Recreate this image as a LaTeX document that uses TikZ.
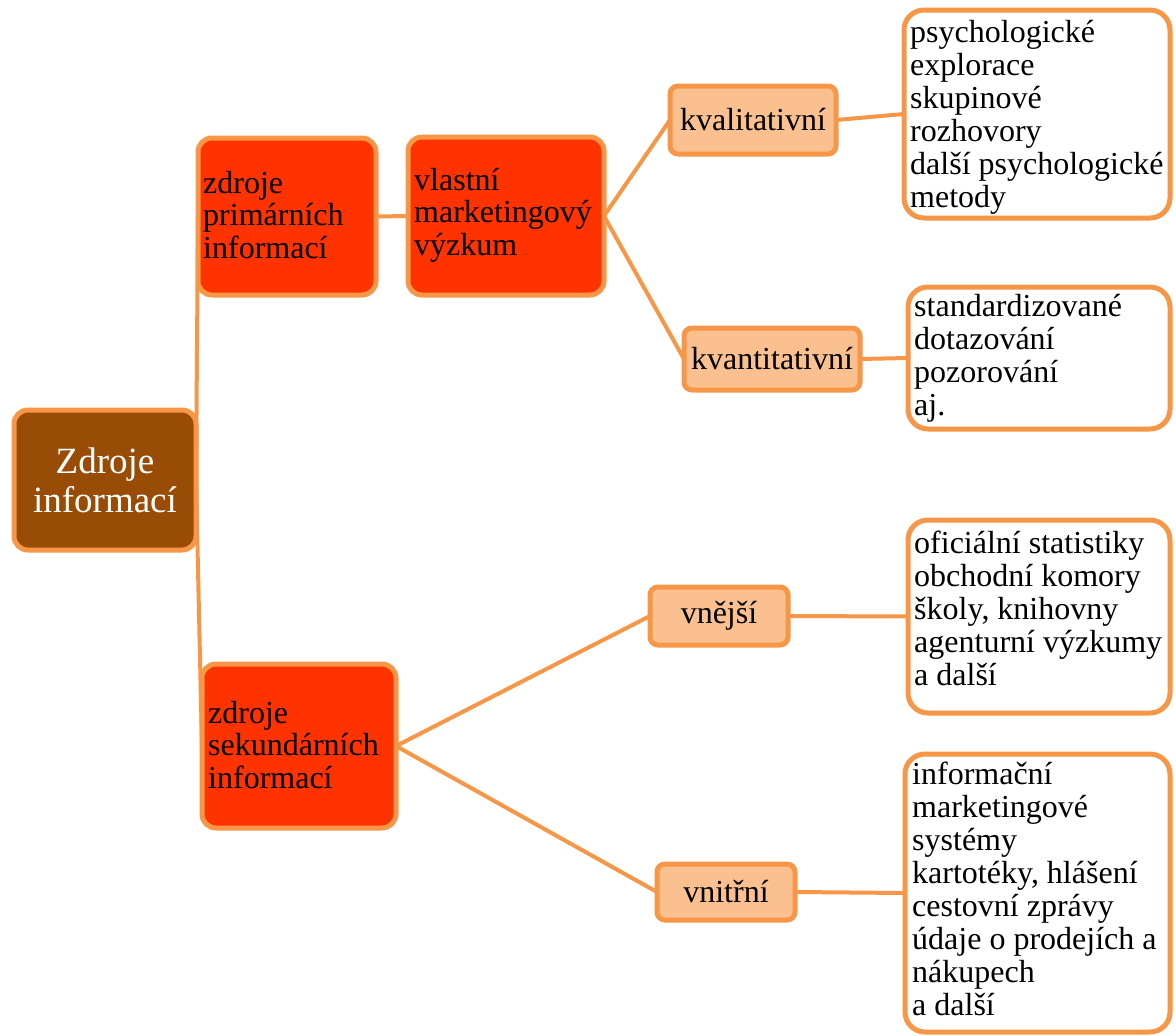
\documentclass[tikz,border=0pt]{standalone}
\usepackage{fontspec}
\setmainfont{Liberation Serif}
\usetikzlibrary{backgrounds}
\definecolor{edgeor}{HTML}{F79646}
\definecolor{brownf}{HTML}{994C06}
\definecolor{redf}{HTML}{FF3300}
\definecolor{lightf}{HTML}{FAC090}
\newcommand{\fstrut}{\rule{0pt}{25pt}}
\begin{document}
\begin{tikzpicture}[x=1pt,y=-1pt,
  boxbase/.style={draw=edgeor, line width=5pt, inner sep=0pt, outer sep=0pt},
  rootbox/.style={boxbase, fill=brownf, rounded corners=14pt, text=white,
    font=\fontsize{37}{39}\selectfont, align=center},
  redbox/.style={boxbase, fill=redf, rounded corners=14pt},
  midbox/.style={boxbase, fill=lightf, rounded corners=8pt,
    font=\fontsize{32}{33}\selectfont},
  infobox/.style={boxbase, fill=white, rounded corners=20pt},
  txt/.style={anchor=north west, align=left, inner sep=0pt,
    font=\fontsize{32}{33}\selectfont},
  redtxt/.style={anchor=north west, align=left, inner sep=0pt,
    font=\fontsize{32}{32.5}\selectfont},
  conn/.style={draw=edgeor, line width=4pt}]
\useasboundingbox (0,0) rectangle (1176,1036);

% boxes
\node[rootbox, minimum width=182pt, minimum height=140pt] (root) at (105,480) {Zdroje\\informací};
\node[redbox, minimum width=178pt, minimum height=157pt] (prim) at (287,216.5) {};
\node[redbox, minimum width=196pt, minimum height=158pt] (vlast) at (506,216) {};
\node[redbox, minimum width=194pt, minimum height=164pt] (sec) at (299,746) {};

\node[midbox, minimum width=166pt, minimum height=68pt] (kval) at (753,120) {kvalitativní};
\node[midbox, minimum width=176pt, minimum height=62pt] (kvant) at (772,359) {kvantitativní};
\node[midbox, minimum width=138pt, minimum height=58pt] (vnej) at (719,616) {vnější};
\node[midbox, minimum width=138pt, minimum height=56pt] (vnit) at (726,892) {vnitřní};

\node[infobox, minimum width=266pt, minimum height=208pt] (b1) at (1037,114) {};
\node[infobox, minimum width=262pt, minimum height=142pt] (b2) at (1039,358) {};
\node[infobox, minimum width=262pt, minimum height=193pt] (b3) at (1039,616.5) {};
\node[infobox, minimum width=265pt, minimum height=278pt] (b4) at (1037.5,893) {};

% texts
\node[redtxt] (primt) at (203,168) {\fstrut zdroje\\primárních\\informací};
\node[redtxt] (vlastt) at (414,165) {\fstrut vlastní\\marketingový\\výzkum};
\node[redtxt] (sect) at (208,698) {\fstrut zdroje\\sekundárních\\informací};

\node[txt] (b1t) at (910,17) {\fstrut psychologické\\explorace\\skupinové\\rozhovory\\další psychologické\\metody};
\node[txt] (b2t) at (914,291) {\fstrut standardizované\\dotazování\\pozorování\\aj.};
\node[txt] (b3t) at (914,528) {\fstrut oficiální statistiky\\obchodní komory\\školy, knihovny\\agenturní výzkumy\\a další};
\node[txt] (b4t) at (912,759) {\fstrut informační\\marketingové\\systémy\\kartotéky, hlášení\\cestovní zprávy\\údaje o prodejích a\\nákupech\\a další};

% connectors
\begin{pgfonlayer}{background}
\draw[conn] (root.east) -- (prim.west);
\draw[conn] (root.east) -- (sec.west);
\draw[conn] (prim.east) -- (vlast.west);
\draw[conn] (vlast.east) -- (kval.west);
\draw[conn] (vlast.east) -- (kvant.west);
\draw[conn] (kval.east) -- (b1.west);
\draw[conn] (kvant.east) -- (b2.west);
\draw[conn] (sec.east) -- (vnej.west);
\draw[conn] (sec.east) -- (vnit.west);
\draw[conn] (vnej.east) -- (b3.west);
\draw[conn] (vnit.east) -- (b4.west);
\end{pgfonlayer}
\end{tikzpicture}
\end{document}
